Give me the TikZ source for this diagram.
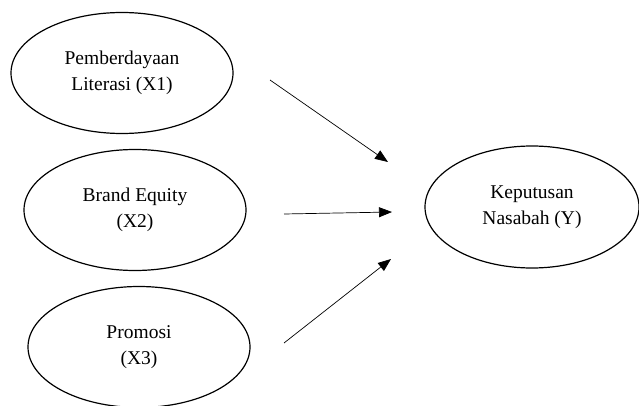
\documentclass[tikz,border=0pt]{standalone}
\usepackage{fontspec}
\setmainfont{Liberation Serif}
\usetikzlibrary{shapes.geometric,arrows.meta}

\begin{document}
\begin{tikzpicture}[x=1pt,y=-1pt]
    \tikzstyle{every node}+=[inner sep=0pt]
    \tikzstyle{var}=[draw=black, ellipse, line width=1.2pt, minimum width=222pt, minimum height=121pt, align=center, font=\fontsize{19.5}{26}\selectfont]
    \tikzstyle{link}=[black, line width=0.7pt, -{Triangle[length=13pt,width=10pt]}]
    \useasboundingbox (0,0) rectangle (639,406);
    \node [var] (x1) at (122,73) {Pemberdayaan\\Literasi (X1)};
    \node [var] (x2) at (135,210) {Brand Equity\\(X2)};
    \node [var] (x3) at (139,347) {Promosi\\(X3)};
    \node [var, minimum width=214pt, minimum height=122pt] (y) at (532,207) {Keputusan\\Nasabah (Y)};
    \coordinate (a1s) at (270,80);
    \coordinate (a1e) at (388,162);
    \coordinate (a2s) at (284,214);
    \coordinate (a2e) at (392,212);
    \coordinate (a3s) at (284,343);
    \coordinate (a3e) at (391,259);
    \draw [link] (a1s) -- (a1e);
    \draw [link] (a2s) -- (a2e);
    \draw [link] (a3s) -- (a3e);
\end{tikzpicture}
\end{document}
